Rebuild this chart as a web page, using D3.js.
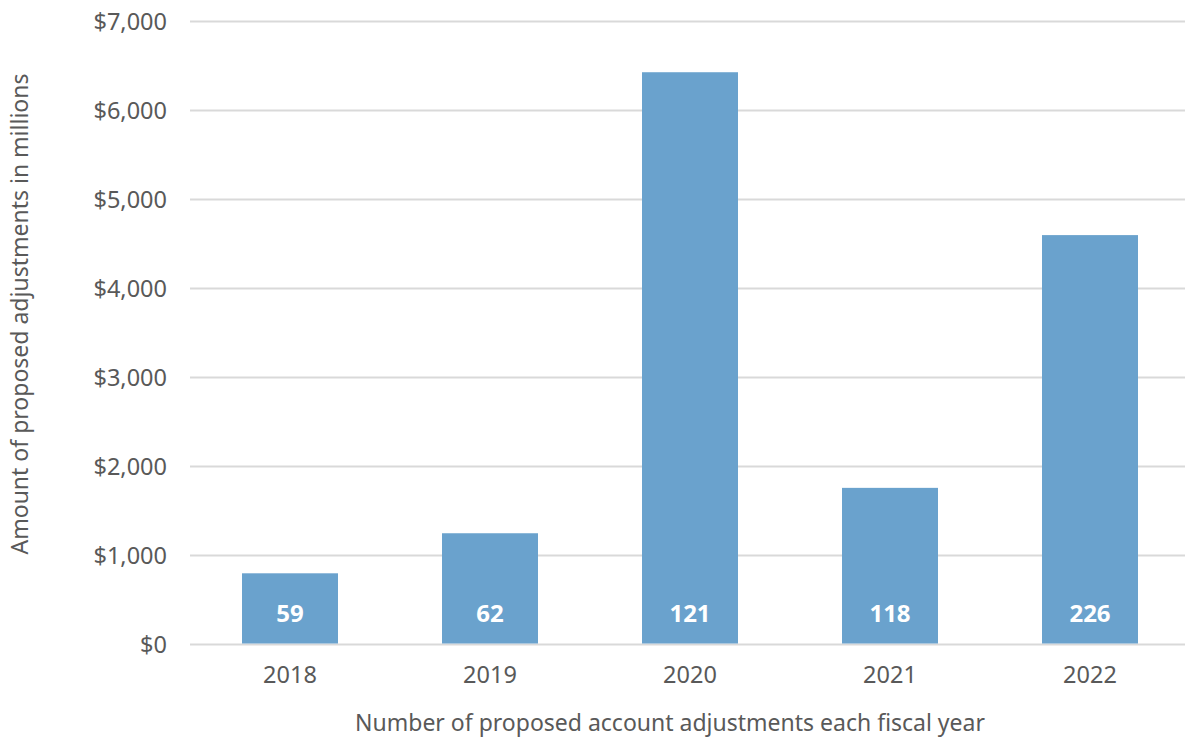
<!DOCTYPE html>
<html>
<head>
<meta charset="utf-8">
<script src="https://cdn.jsdelivr.net/npm/d3@7"></script>
<style>
  body { margin: 0; background: #fff; }
  text { font-family: "Noto Sans", "Open Sans", sans-serif; }
</style>
</head>
<body>
<script>
let years = ["2018", "2019", "2020", "2021", "2022"];
let amounts = [800, 1250, 6430, 1760, 4600];
let counts = [59, 62, 121, 118, 226];
let yTicks = [0, 1000, 2000, 3000, 4000, 5000, 6000, 7000];

let width = 1185,
    height = 739;
let plotLeft = 190, plotRight = 1190, plotTop = 21.5, plotBottom = 644.5;

let svg = d3.select("body").append("svg")
    .attr("width", width).attr("height", height);

let xScale = d3.scaleBand()
    .domain(years)
    .range([plotLeft, plotRight])
    .paddingInner(0.52)
    .paddingOuter(0.26);
let yScale = d3.scaleLinear()
    .domain([0, 7000])
    .range([plotBottom, plotTop]);

// gridlines
svg.append("g").selectAll("line").data(yTicks).enter().append("line")
    .attr("x1", plotLeft).attr("x2", plotRight)
    .attr("y1", (d) => yScale(d)).attr("y2", (d) => yScale(d))
    .attr("stroke", "#d9d9d9").attr("stroke-width", 2);

// y axis labels
let yAxis = d3.axisLeft(yScale)
    .tickValues(yTicks)
    .tickSize(0).tickPadding(0)
    .tickFormat((d) => "$" + d3.format(",")(d));
let yg = svg.append("g").attr("transform", "translate(167,0)").call(yAxis);
yg.select(".domain").remove();
yg.selectAll("text").attr("font-size", 23.5).attr("fill", "#595959")
    .attr("font-family", "Noto Sans, Open Sans, sans-serif");

// x axis labels
let xAxis = d3.axisBottom(xScale).tickSize(0).tickPadding(0);
let xg = svg.append("g").attr("transform", "translate(0,666)").call(xAxis);
xg.select(".domain").remove();
xg.selectAll("text").attr("font-size", 23.5).attr("fill", "#595959")
    .attr("font-family", "Noto Sans, Open Sans, sans-serif");

// bars
let rows = years.map((y, i) => ({ year: y, amount: amounts[i], count: counts[i] }));
svg.append("g").selectAll("rect").data(rows).enter().append("rect")
    .attr("x", (d) => xScale(d.year))
    .attr("width", xScale.bandwidth())
    .attr("y", (d) => yScale(d.amount))
    .attr("height", (d) => yScale(0) - yScale(d.amount) - 1)
    .attr("fill", "#6aa2cd");

// count labels inside bars
svg.append("g").selectAll("text").data(rows).enter().append("text")
    .attr("x", (d) => xScale(d.year) + xScale.bandwidth() / 2)
    .attr("y", 622)
    .attr("text-anchor", "middle")
    .attr("font-size", 24).attr("font-weight", "bold")
    .attr("fill", "#fff")
    .text((d) => d.count);

// axis titles
svg.append("text")
    .attr("x", 670).attr("y", 731)
    .attr("text-anchor", "middle")
    .attr("font-size", 23).attr("fill", "#595959")
    .text("Number of proposed account adjustments each fiscal year");

svg.append("text")
    .attr("transform", "translate(28,314) rotate(-90)")
    .attr("text-anchor", "middle")
    .attr("font-size", 23).attr("fill", "#595959")
    .text("Amount of proposed adjustments in millions");
</script>
</body>
</html>
